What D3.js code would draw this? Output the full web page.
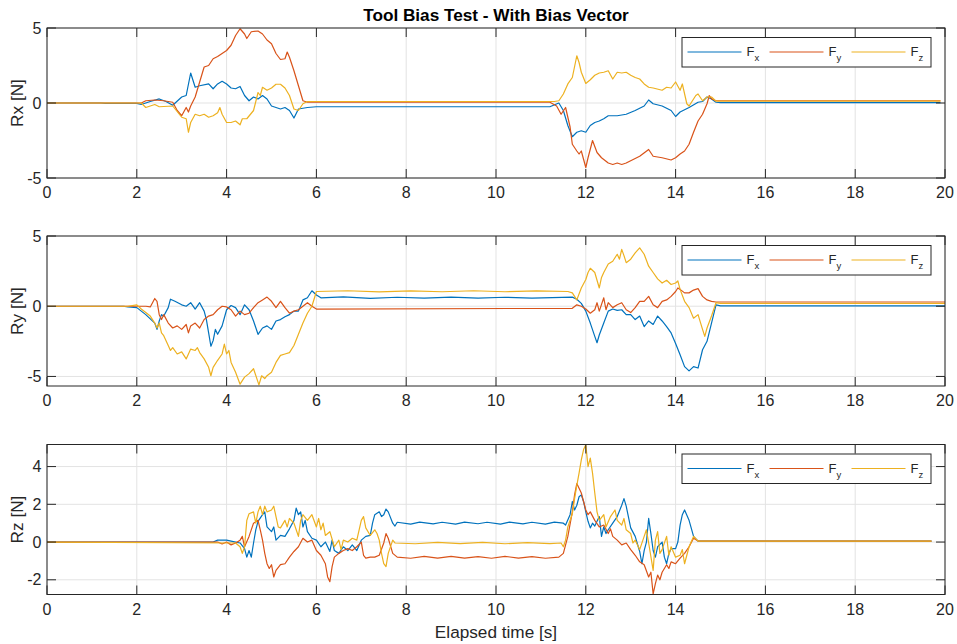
<!DOCTYPE html>
<html>
<head>
<meta charset="utf-8">
<script src="https://cdn.jsdelivr.net/npm/d3@7"></script>
<style>
  body { margin: 0; background: #fff; }
  svg text { font-family: "Liberation Sans", Arial, Helvetica, sans-serif; fill: #262626; }
</style>
</head>
<body>
<div id="chart"></div>
<script>
// time axis
const timeTicks = [0, 2, 4, 6, 8, 10, 12, 14, 16, 18, 20];
const seriesNames = ["x", "y", "z"];
const seriesColors = ["#0072BD", "#D95319", "#EDB120"];

// Rx panel  [t, N]
const rxFx = [[0,0],[1.2,0],[1.3,-0.03],[2.0,-0.03],[2.1,-0.1],[2.3,0.1],[2.5,0.27],[2.65,0.1],[2.8,-0.15],[3.0,0.4],[3.1,0.5],[3.2,2.0],[3.3,1.05],[3.4,1.15],[3.6,1.27],[3.7,0.95],[3.8,1.27],[3.9,1.45],[4.0,1.27],[4.1,1.0],[4.2,0.95],[4.3,1.1],[4.4,0.5],[4.5,0.15],[4.6,0.4],[4.7,0.27],[4.8,0.5],[4.9,0.27],[5.0,-0.2],[5.1,-0.3],[5.2,-0.4],[5.3,-0.3],[5.4,-0.5],[5.5,-1.0],[5.6,-0.4],[5.8,-0.3],[6.0,-0.25],[11.2,-0.25],[11.4,0],[11.5,-0.5],[11.6,-1.5],[11.7,-2.25],[11.8,-1.95],[11.9,-1.85],[12.0,-1.95],[12.1,-1.5],[12.2,-1.3],[12.3,-1.2],[12.4,-1.05],[12.5,-0.85],[12.7,-0.85],[12.9,-0.75],[13.1,-0.5],[13.3,-0.2],[13.4,0.2],[13.5,-0.05],[13.7,-0.2],[13.9,-0.5],[14.0,-0.9],[14.1,-0.6],[14.3,-0.3],[14.5,0.05],[14.6,0.1],[14.7,0.4],[14.8,0.27],[14.9,0.05],[15.0,0.02],[19.9,0.02]];
const rxFy = [[0,0],[2.1,0],[2.2,0.15],[2.4,0.2],[2.6,0.15],[2.8,0.05],[2.9,-0.5],[3.0,-0.85],[3.1,-0.3],[3.15,-0.6],[3.2,-0.2],[3.3,0.4],[3.4,1.4],[3.5,2.4],[3.6,2.5],[3.7,2.95],[3.8,3.1],[3.9,3.3],[4.0,3.5],[4.1,3.85],[4.2,4.5],[4.3,4.95],[4.4,4.6],[4.45,4.3],[4.55,4.75],[4.7,4.8],[4.8,4.6],[4.9,4.2],[5.0,3.95],[5.1,3.3],[5.2,2.9],[5.3,2.95],[5.35,3.4],[5.4,3.05],[5.5,2.15],[5.6,1.15],[5.7,0.15],[5.8,0.05],[11.2,0.05],[11.35,-0.2],[11.45,-0.75],[11.55,-0.3],[11.65,-1.6],[11.7,-2.75],[11.8,-3.2],[11.85,-3.4],[11.9,-3.2],[11.95,-3.75],[12.0,-4.3],[12.05,-3.65],[12.15,-2.5],[12.25,-3.3],[12.35,-3.65],[12.5,-4.0],[12.6,-4.1],[12.7,-4.0],[12.8,-4.1],[12.9,-4.0],[13.0,-3.85],[13.2,-3.55],[13.4,-3.1],[13.5,-3.55],[13.7,-3.65],[13.9,-3.8],[14.0,-3.65],[14.1,-3.4],[14.2,-3.2],[14.3,-2.75],[14.4,-1.95],[14.5,-1.2],[14.6,-0.75],[14.7,-0.05],[14.75,0.5],[14.8,0.27],[14.9,0.15],[19.9,0.15]];
const rxFz = [[0,0],[2.1,0],[2.2,-0.3],[2.4,-0.1],[2.5,-0.25],[2.8,-0.2],[3.0,-0.95],[3.1,-1.05],[3.15,-1.95],[3.2,-1.3],[3.3,-0.75],[3.4,-0.85],[3.5,-0.75],[3.6,-0.95],[3.7,-0.85],[3.8,-0.65],[3.85,-0.3],[3.9,-0.75],[4.0,-1.3],[4.1,-1.3],[4.2,-1.2],[4.3,-1.45],[4.35,-1.05],[4.45,-1.05],[4.6,-0.5],[4.7,0.7],[4.75,0.5],[4.8,1.05],[4.9,0.85],[5.0,1.0],[5.1,1.25],[5.2,1.25],[5.3,1.0],[5.4,0.5],[5.5,-0.4],[5.6,-0.5],[5.7,-0.05],[5.8,0.1],[11.3,0.1],[11.4,0.15],[11.5,0.6],[11.6,1.27],[11.7,1.7],[11.8,3.15],[11.85,2.7],[11.9,2.05],[12.0,1.3],[12.1,1.55],[12.2,1.85],[12.3,2.0],[12.4,2.05],[12.5,2.15],[12.6,1.6],[12.7,2.05],[12.8,2.0],[12.9,2.05],[13.0,1.85],[13.1,1.7],[13.2,1.6],[13.3,1.27],[13.4,1.05],[13.5,1.0],[13.7,0.85],[13.8,1.05],[13.9,1.0],[14.0,1.4],[14.1,0.85],[14.15,1.27],[14.25,-0.05],[14.3,-0.2],[14.45,0.5],[14.5,0.6],[14.6,0.15],[14.7,0.4],[14.8,0.4],[14.9,0.12],[19.9,0.12]];

// Ry panel
const ryFx = [[0,0],[1.7,0],[1.8,-0.05],[2.0,-0.1],[2.2,-0.6],[2.4,-1.2],[2.45,-1.65],[2.5,-1.05],[2.55,-0.6],[2.6,-0.7],[2.7,-0.1],[2.75,0.5],[2.85,0.35],[3.0,0.1],[3.1,0],[3.2,0.25],[3.3,-0.2],[3.4,0.25],[3.5,-0.35],[3.55,-0.95],[3.6,-1.9],[3.65,-2.85],[3.7,-2.45],[3.75,-1.65],[3.8,-2.0],[3.9,-1.4],[4.0,-0.25],[4.1,0.05],[4.2,-0.1],[4.3,-0.6],[4.4,0.1],[4.5,-0.25],[4.6,-1.05],[4.7,-2.0],[4.8,-1.55],[4.9,-1.4],[5.0,-1.65],[5.1,-1.05],[5.2,-0.95],[5.3,-0.75],[5.4,-0.6],[5.5,-0.35],[5.6,-0.35],[5.7,0.45],[5.8,0.6],[5.9,1.1],[6.0,0.8],[6.1,0.6],[6.6,0.66],[7.2,0.56],[7.8,0.64],[8.4,0.57],[9.0,0.65],[9.6,0.58],[10.2,0.64],[10.8,0.57],[11.7,0.65],[11.8,0.5],[11.9,0.2],[12.0,-0.35],[12.1,-1.2],[12.2,-2.15],[12.25,-2.6],[12.3,-2.05],[12.4,-1.2],[12.5,-0.35],[12.6,-0.2],[12.7,-0.3],[12.8,-0.25],[12.9,-0.6],[13.0,-0.6],[13.1,-0.95],[13.2,-0.7],[13.3,-1.45],[13.4,-1.05],[13.5,-1.3],[13.6,-0.7],[13.7,-1.05],[13.8,-1.45],[13.9,-1.9],[14.0,-2.65],[14.1,-3.45],[14.2,-4.3],[14.3,-4.6],[14.4,-4.3],[14.5,-4.4],[14.6,-3.1],[14.7,-2.5],[14.8,-1.2],[14.9,0.1],[15.0,0.02],[20,0.02]];
const ryFy = [[0,0],[2.2,0],[2.3,-0.05],[2.35,0.25],[2.4,0.55],[2.45,0.35],[2.5,-0.6],[2.55,-0.95],[2.6,-0.6],[2.7,-1.2],[2.8,-1.55],[2.9,-1.4],[3.0,-1.65],[3.1,-1.3],[3.15,-1.9],[3.2,-1.4],[3.3,-1.2],[3.4,-1.55],[3.5,-0.95],[3.6,-0.7],[3.7,-0.6],[3.8,-0.25],[3.9,0],[4.0,-0.05],[4.1,-0.25],[4.2,-0.7],[4.3,-0.35],[4.4,-0.6],[4.5,-0.5],[4.6,-0.1],[4.7,0.25],[4.8,0.45],[4.9,0.65],[5.0,0.35],[5.1,-0.1],[5.2,0.35],[5.3,-0.1],[5.4,-0.5],[5.5,-0.35],[5.6,-0.25],[5.7,0],[5.8,0.25],[5.9,0],[6.0,-0.2],[11.7,-0.15],[11.8,0.1],[11.9,0],[12.0,-0.2],[12.1,-0.5],[12.2,-0.25],[12.25,0.25],[12.3,-0.35],[12.4,0.6],[12.45,-0.25],[12.5,0.25],[12.6,-0.1],[12.7,0.1],[12.8,0.25],[12.9,-0.25],[13.0,-0.45],[13.1,-0.1],[13.2,0.35],[13.3,0.35],[13.4,0.7],[13.5,0.1],[13.6,-0.1],[13.7,0.35],[13.8,0.45],[13.9,0.7],[14.0,1.05],[14.05,1.3],[14.1,1.2],[14.2,0.95],[14.3,0.95],[14.4,1.15],[14.5,1.25],[14.6,0.7],[14.7,0.45],[14.8,0.35],[14.9,0.3],[20,0.3]];
const ryFz = [[0,0],[1.8,0],[2.0,0.1],[2.1,-0.2],[2.3,-0.7],[2.4,-1.2],[2.45,-1.55],[2.5,-1.2],[2.55,-1.9],[2.6,-2.1],[2.7,-2.8],[2.75,-3.15],[2.8,-2.95],[2.9,-3.4],[3.0,-3.25],[3.1,-3.75],[3.15,-3.4],[3.2,-3.05],[3.3,-3.15],[3.35,-2.95],[3.4,-3.3],[3.5,-3.75],[3.6,-4.35],[3.65,-4.95],[3.7,-4.35],[3.8,-3.85],[3.9,-3.4],[3.95,-2.7],[4.0,-3.4],[4.05,-3.15],[4.1,-4.0],[4.2,-4.7],[4.3,-5.55],[4.4,-5.05],[4.5,-4.8],[4.6,-4.45],[4.72,-5.6],[4.78,-4.95],[4.85,-5.15],[4.9,-4.95],[5.0,-4.7],[5.1,-4.0],[5.2,-3.5],[5.3,-3.4],[5.4,-3.3],[5.5,-2.8],[5.6,-2.0],[5.7,-1.2],[5.8,-0.5],[5.9,0],[6.0,1.05],[6.7,1.1],[7.4,1.02],[8.1,1.09],[8.8,1.03],[9.5,1.1],[10.2,1.03],[10.9,1.09],[11.6,1.05],[11.7,0.95],[11.8,0.45],[11.9,1.3],[12.0,1.9],[12.05,2.4],[12.1,2.7],[12.2,2.4],[12.3,1.3],[12.35,2.05],[12.4,2.4],[12.5,3.0],[12.6,3.2],[12.7,3.7],[12.75,3.35],[12.8,4.05],[12.85,3.6],[12.9,3.1],[13.0,3.35],[13.1,3.8],[13.2,4.15],[13.3,3.7],[13.4,2.85],[13.5,2.4],[13.6,1.95],[13.7,1.65],[13.8,1.85],[13.9,1.55],[14.0,1.65],[14.05,1.8],[14.1,1.2],[14.2,0.35],[14.3,-0.1],[14.4,-0.85],[14.5,-0.6],[14.6,-1.65],[14.65,-2.15],[14.7,-1.55],[14.8,-0.7],[14.9,0.25],[15.0,0.2],[20,0.2]];

// Rz panel
const rzFx = [[0,0],[3.7,0],[3.8,0.1],[4.0,0.1],[4.2,0],[4.3,-0.05],[4.4,-0.35],[4.45,-0.8],[4.5,-0.45],[4.55,-0.8],[4.6,-0.05],[4.65,0.65],[4.7,1.1],[4.8,1.45],[4.85,1.6],[4.9,0.8],[5.0,0.55],[5.05,0.8],[5.1,0.1],[5.2,0.35],[5.3,0.3],[5.4,0.7],[5.5,1.15],[5.55,1.8],[5.6,1.45],[5.65,1.6],[5.7,0.8],[5.75,1.15],[5.8,0.55],[5.9,0.2],[6.0,0.1],[6.1,-0.25],[6.2,0],[6.3,-0.5],[6.35,0.1],[6.4,-0.45],[6.5,-0.6],[6.6,-0.25],[6.7,-0.45],[6.8,-0.15],[6.9,-0.45],[7.0,0.1],[7.1,0.3],[7.2,0.35],[7.25,1.0],[7.3,1.45],[7.4,1.6],[7.45,1.35],[7.5,1.45],[7.55,1.75],[7.6,1.6],[7.7,1.0],[7.75,0.85],[7.8,1.05],[8.1,0.95],[8.3,1.06],[8.6,0.96],[8.8,1.05],[9.1,0.95],[9.3,1.06],[9.6,0.97],[9.8,1.05],[10.1,0.95],[10.3,1.06],[10.6,0.96],[10.8,1.05],[11.1,0.95],[11.3,1.06],[11.5,1.0],[11.55,0.9],[11.65,1.45],[11.7,2.15],[11.75,1.7],[11.8,1.95],[11.85,2.4],[11.9,2.5],[11.95,2.15],[12.0,1.6],[12.05,1.1],[12.1,0.75],[12.15,1.0],[12.2,0.85],[12.3,1.35],[12.35,0.3],[12.4,0.8],[12.45,0.45],[12.5,0.65],[12.6,1.0],[12.7,1.35],[12.8,1.95],[12.85,2.3],[12.9,1.9],[13.0,0.75],[13.1,0.3],[13.2,-0.5],[13.25,-1.15],[13.3,-0.45],[13.35,0],[13.4,1.25],[13.45,0.45],[13.5,-0.45],[13.55,-0.8],[13.6,-0.25],[13.7,0],[13.75,-0.8],[13.8,-1.15],[13.85,-0.6],[13.9,-0.35],[14.0,-0.35],[14.05,0],[14.1,0.9],[14.15,1.45],[14.2,1.7],[14.3,1.15],[14.4,0.3],[14.5,0.05],[19.7,0.05]];
const rzFy = [[0,0],[3.8,0],[3.9,-0.1],[4.0,0],[4.1,-0.15],[4.2,-0.05],[4.3,0.1],[4.35,0.3],[4.4,-0.25],[4.5,0.3],[4.6,1.0],[4.7,1.15],[4.75,0.65],[4.8,0.1],[4.85,-0.6],[4.9,-1.15],[4.95,-1.4],[5.0,-1.2],[5.05,-1.85],[5.1,-1.5],[5.2,-1.2],[5.3,-1.15],[5.4,-0.8],[5.5,-0.5],[5.6,-0.25],[5.7,0.2],[5.8,0],[5.9,0.1],[6.0,-0.45],[6.1,-0.7],[6.2,-1.15],[6.25,-1.85],[6.3,-2.1],[6.35,-1.3],[6.4,-0.8],[6.5,-0.6],[6.6,-0.45],[6.7,-0.35],[6.8,-0.45],[6.9,-0.25],[7.0,0],[7.05,-0.7],[7.1,-0.85],[7.2,-0.8],[7.3,-0.8],[7.4,-0.7],[7.5,-0.05],[7.55,0.45],[7.6,0.2],[7.7,-0.6],[7.8,-0.8],[8.1,-0.86],[8.4,-0.76],[8.7,-0.85],[9.0,-0.76],[9.3,-0.85],[9.6,-0.77],[9.9,-0.86],[10.2,-0.76],[10.5,-0.85],[10.8,-0.77],[11.1,-0.86],[11.4,-0.8],[11.5,-0.6],[11.6,0.3],[11.7,1.6],[11.75,2.5],[11.8,3.1],[11.85,2.85],[11.9,2.6],[11.95,2.15],[12.0,1.7],[12.05,1.45],[12.1,1.6],[12.2,1.15],[12.3,0.8],[12.4,0.9],[12.5,0.45],[12.55,0.7],[12.6,0.3],[12.7,0.1],[12.8,-0.15],[12.9,-0.05],[13.0,-0.4],[13.1,-0.7],[13.2,-1.05],[13.3,-1.2],[13.4,-1.85],[13.45,-1.6],[13.5,-2.75],[13.55,-2.2],[13.6,-1.75],[13.65,-2.0],[13.7,-1.6],[13.8,-1.2],[13.85,-1.4],[13.9,-1.05],[14.0,-1.15],[14.1,-0.85],[14.2,-0.6],[14.3,-0.25],[14.4,0.2],[14.5,0.05],[19.7,0.05]];
const rzFz = [[0,0],[4.2,-0.05],[4.3,-0.25],[4.35,-0.6],[4.4,-0.25],[4.45,1.15],[4.5,1.5],[4.6,1.6],[4.65,1.0],[4.7,1.6],[4.75,1.9],[4.8,1.45],[4.85,1.9],[4.9,1.6],[5.0,1.7],[5.05,1.9],[5.1,1.35],[5.15,0.8],[5.2,0.75],[5.3,1.15],[5.35,0.8],[5.4,1.25],[5.5,1.0],[5.55,0.65],[5.6,0.3],[5.65,1.15],[5.7,1.45],[5.8,1.15],[5.9,1.45],[6.0,0.8],[6.05,1.25],[6.1,0.65],[6.15,1.0],[6.2,0.35],[6.3,0.55],[6.4,-0.25],[6.5,0.1],[6.55,-0.4],[6.6,0.1],[6.7,0],[6.8,0.2],[6.9,0.1],[7.0,1.15],[7.05,1.35],[7.1,0.75],[7.2,0.35],[7.3,0.65],[7.35,0.45],[7.4,0.1],[7.45,-0.6],[7.5,-1.15],[7.55,-1.3],[7.6,-0.6],[7.7,0.1],[7.75,-0.05],[8.2,-0.09],[8.7,-0.02],[9.2,-0.08],[9.7,-0.02],[10.2,-0.09],[10.7,-0.03],[11.2,-0.08],[11.45,-0.05],[11.5,-0.25],[11.55,0.1],[11.6,0.8],[11.7,1.5],[11.75,2.3],[11.8,3.0],[11.85,3.65],[11.9,4.35],[11.95,4.9],[12.0,5.15],[12.05,4.0],[12.1,4.45],[12.15,3.65],[12.2,2.6],[12.25,1.6],[12.3,1.15],[12.4,1.45],[12.45,0.8],[12.55,1.35],[12.65,1.7],[12.7,1.15],[12.8,0.9],[12.85,1.25],[12.9,0.65],[13.0,0.45],[13.05,-0.05],[13.1,0.1],[13.2,-0.4],[13.3,0.3],[13.35,0.65],[13.4,-0.05],[13.5,-1.5],[13.55,0.1],[13.6,0.55],[13.65,-0.6],[13.7,-0.4],[13.8,0.3],[13.85,-0.7],[13.9,-0.25],[14.0,-0.8],[14.1,-0.7],[14.15,-0.4],[14.2,-1.15],[14.3,-0.25],[14.4,0.3],[14.5,0.05],[19.7,0.05]];

const rxTicks = [-5, 0, 5];
const ryTicks = [-5, 0, 5];
const rzTicks = [-2, 0, 2, 4];

const panels = [
    { label: "Rx [N]", top: 28, yMin: -5, yMax: 5, ticks: rxTicks, series: [rxFx, rxFy, rxFz] },
    { label: "Ry [N]", top: 236, yMin: -5.68, yMax: 5, ticks: ryTicks, series: [ryFx, ryFy, ryFz] },
    { label: "Rz [N]", top: 444.5, yMin: -2.78, yMax: 5.17, ticks: rzTicks, series: [rzFx, rzFy, rzFz] }
];

const width = 957, height = 644;
const left = 47, right = 945, panelH = 150;
const tickLen = 9;
const axisColor = "#262626";
const gridColor = "#e3e3e3";

const svg = d3.select("#chart").append("svg")
    .attr("width", width)
    .attr("height", height);

const x = d3.scaleLinear().domain([0, 20]).range([left, right]);

svg.append("text")
    .attr("x", (left + right) / 2)
    .attr("y", 21)
    .attr("text-anchor", "middle")
    .style("font-size", "17.2px")
    .style("font-weight", "bold")
    .style("fill", "#000")
    .text("Tool Bias Test - With Bias Vector");

panels.forEach(function (p) {
    const bottom = p.top + panelH;
    const y = d3.scaleLinear().domain([p.yMin, p.yMax]).range([bottom, p.top]);
    const g = svg.append("g");

    // grid
    g.selectAll(".xgrid")
        .data(timeTicks)
        .enter().append("line")
        .attr("x1", d => x(d)).attr("x2", d => x(d))
        .attr("y1", p.top).attr("y2", bottom)
        .attr("stroke", gridColor).attr("stroke-width", 1);

    g.selectAll(".ygrid")
        .data(p.ticks)
        .enter().append("line")
        .attr("x1", left).attr("x2", right)
        .attr("y1", d => y(d)).attr("y2", d => y(d))
        .attr("stroke", gridColor).attr("stroke-width", 1);

    // signals
    const clipId = "clip" + Math.round(p.top);
    svg.append("clipPath").attr("id", clipId)
        .append("rect")
        .attr("x", left).attr("y", p.top - 1)
        .attr("width", right - left).attr("height", panelH + 2);

    const line = d3.line()
        .x(d => x(d[0]))
        .y(d => y(d[1]));

    g.append("g").attr("clip-path", `url(#${clipId})`)
        .selectAll("path")
        .data(p.series)
        .enter().append("path")
        .attr("d", line)
        .attr("fill", "none")
        .attr("stroke", (d, i) => seriesColors[i])
        .attr("stroke-width", 1.2)
        .attr("stroke-linejoin", "round");

    // ticks, inward on all four sides
    g.selectAll(".xtick")
        .data(timeTicks)
        .enter().append("path")
        .attr("d", d => `M${x(d)},${bottom}v${-tickLen}M${x(d)},${p.top}v${tickLen}`)
        .attr("stroke", axisColor).attr("stroke-width", 1);

    g.selectAll(".ytick")
        .data(p.ticks)
        .enter().append("path")
        .attr("d", d => `M${left},${y(d)}h${tickLen}M${right},${y(d)}h${-tickLen}`)
        .attr("stroke", axisColor).attr("stroke-width", 1);

    g.append("rect")
        .attr("x", left).attr("y", p.top)
        .attr("width", right - left).attr("height", panelH)
        .attr("fill", "none")
        .attr("stroke", axisColor).attr("stroke-width", 1);

    // tick labels
    g.selectAll(".xlab")
        .data(timeTicks)
        .enter().append("text")
        .attr("x", d => x(d))
        .attr("y", bottom + 20)
        .attr("text-anchor", "middle")
        .style("font-size", "16px")
        .text(d => d);

    g.selectAll(".ylab")
        .data(p.ticks)
        .enter().append("text")
        .attr("x", left - 5.5)
        .attr("y", d => y(d))
        .attr("dy", "0.35em")
        .attr("text-anchor", "end")
        .style("font-size", "16px")
        .text(d => d);

    g.append("text")
        .attr("transform", `translate(22.5,${(p.top + bottom) / 2}) rotate(-90)`)
        .attr("text-anchor", "middle")
        .style("font-size", "17.2px")
        .text(p.label);

    // legend
    const lx = 682, ly = p.top + 9.5, lw = 249, lh = 29.5;
    const leg = g.append("g");
    leg.append("rect")
        .attr("x", lx).attr("y", ly)
        .attr("width", lw).attr("height", lh)
        .attr("fill", "#fff")
        .attr("stroke", axisColor).attr("stroke-width", 1);

    const entries = leg.selectAll(".entry")
        .data(seriesNames)
        .enter().append("g")
        .attr("transform", (d, i) => `translate(${lx + 5.5 + i * 82},${ly + 14.5})`);

    entries.append("line")
        .attr("x1", 0).attr("x2", 54)
        .attr("y1", 0).attr("y2", 0)
        .attr("stroke", (d, i) => seriesColors[i])
        .attr("stroke-width", 1.2);

    const t = entries.append("text")
        .attr("x", 59)
        .attr("y", 4)
        .style("font-size", "13px");
    t.append("tspan").text("F");
    t.append("tspan")
        .attr("dy", 5)
        .style("font-size", "9.5px")
        .text(d => d);
});

svg.append("text")
    .attr("x", (left + right) / 2)
    .attr("y", 638)
    .attr("text-anchor", "middle")
    .style("font-size", "17.2px")
    .text("Elapsed time [s]");
</script>
</body>
</html>
